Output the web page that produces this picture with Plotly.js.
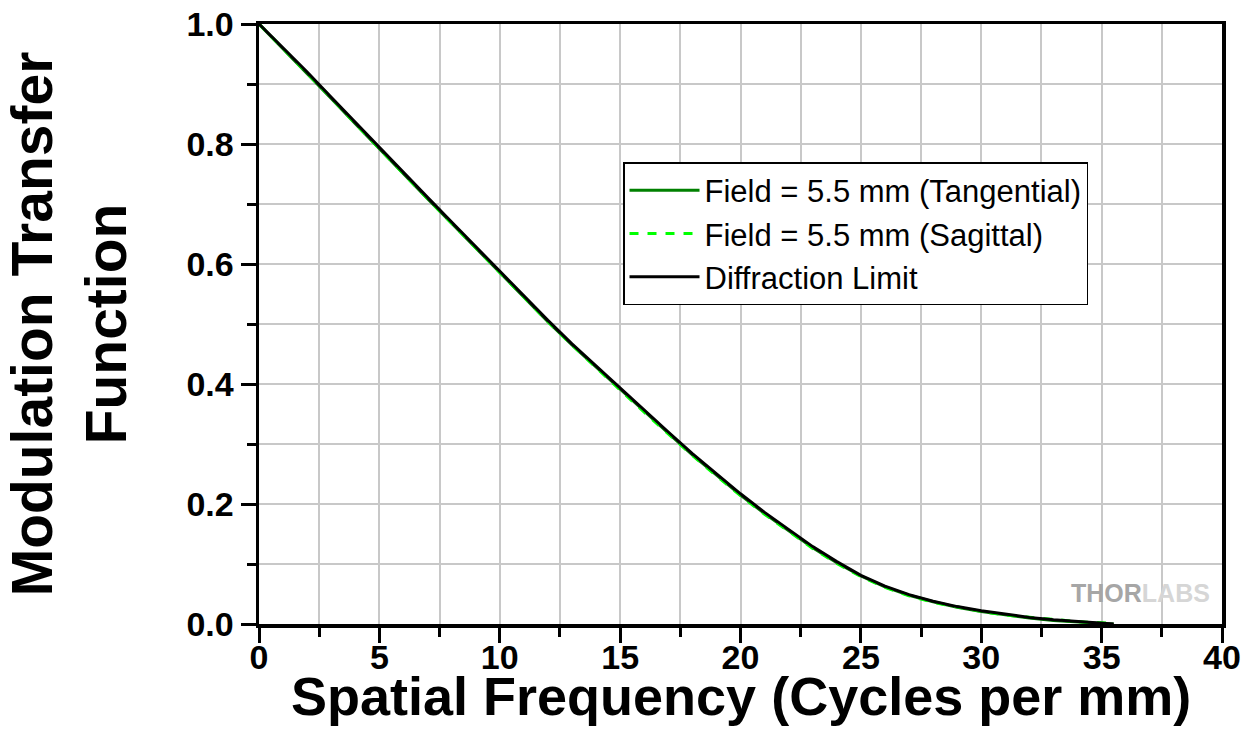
<!DOCTYPE html>
<html>
<head>
<meta charset="utf-8">
<script src="https://cdn.plot.ly/plotly-3.0.1.min.js"></script>
<style>html,body{margin:0;padding:0;background:#fff;}#chart{width:1254px;height:749px;}</style>
</head>
<body>
<div id="chart"></div>
<script>
// Spatial frequency (cycles per mm)
const freq = [0,1,2,3,4,5,6,7,8,9,10,11,12,13,14,15,16,17,18,19,20,21,22,23,24,25,26,27,28,29,30,31,32,33,34,35,35.5];
// MTF values
const tangential = [1.000,0.959,0.918,0.876,0.834,0.792,0.750,0.709,0.668,0.627,0.585,0.544,0.504,0.465,0.428,0.391,0.354,0.318,0.282,0.248,0.215,0.184,0.155,0.127,0.102,0.080,0.062,0.048,0.037,0.028,0.021,0.015,0.010,0.006,0.003,0.001,0.000];
const sagittal = [1.000,0.959,0.918,0.877,0.834,0.792,0.751,0.709,0.668,0.627,0.585,0.544,0.504,0.465,0.427,0.390,0.353,0.317,0.281,0.247,0.214,0.183,0.154,0.126,0.101,0.079,0.061,0.047,0.036,0.028,0.021,0.015,0.011,0.007,0.004,0.002,0.001];
const diffraction = [1.000,0.960,0.920,0.878,0.836,0.794,0.752,0.711,0.670,0.629,0.587,0.546,0.506,0.467,0.430,0.393,0.356,0.320,0.284,0.250,0.217,0.186,0.157,0.129,0.104,0.081,0.063,0.049,0.038,0.029,0.022,0.016,0.011,0.007,0.004,0.001,0.000];
const seriesNames = ["Field = 5.5 mm (Tangential)", "Field = 5.5 mm (Sagittal)", "Diffraction Limit"];
const xTitle = "Spatial Frequency (Cycles per mm)";
const yTitle = "Modulation Transfer<br>Function";

const FONT = "'Liberation Sans', Arial, sans-serif";

const traces = [
  {x: freq, y: tangential, name: seriesNames[0], type: "scatter", mode: "lines",
   line: {color: "#008000", width: 3}, legendgroup: "a"},
  {x: freq, y: sagittal, name: seriesNames[1], type: "scatter", mode: "lines",
   line: {color: "#00ff00", width: 3, dash: "dash"}, legendgroup: "b"},
  {x: freq, y: diffraction, name: seriesNames[2], type: "scatter", mode: "lines",
   line: {color: "#000000", width: 3}, legendgroup: "c"}
];

const layout = {
  width: 1254, height: 749,
  margin: {l: 259, r: 32, t: 24, b: 125},
  paper_bgcolor: "#ffffff", plot_bgcolor: "#ffffff",
  font: {family: FONT, color: "#000"},
  showlegend: true,
  legend: {
    x: 0.378, y: 0.77, xanchor: "left", yanchor: "top",
    bgcolor: "#ffffff", bordercolor: "#000000", borderwidth: 1.5,
    font: {family: FONT, size: 31, color: "#000"},
    tracegroupgap: 0, traceorder: "normal", itemwidth: 70
  },
  xaxis: {
    range: [0, 40], dtick: 5, tick0: 0,
    showline: true, linewidth: 3.5, linecolor: "#000", mirror: true,
    ticks: "outside", ticklen: 15, tickwidth: 3, tickcolor: "#000",
    showgrid: true, gridcolor: "#c8c8c8", gridwidth: 2,
    zeroline: false, ticklabelstandoff: -14,
    tickfont: {family: FONT, size: 34, color: "#000", weight: "bold"},
    minor: {dtick: 2.5, ticklen: 9, tickwidth: 3, tickcolor: "#000", ticks: "outside",
            showgrid: true, gridcolor: "#c8c8c8", gridwidth: 2}
  },
  yaxis: {
    range: [0, 1], dtick: 0.2, tick0: 0, tickformat: ".1f",
    showline: true, linewidth: 3.5, linecolor: "#000", mirror: true,
    ticks: "outside", ticklen: 15, tickwidth: 3, tickcolor: "#000",
    showgrid: true, gridcolor: "#c8c8c8", gridwidth: 2,
    zeroline: false,
    tickfont: {family: FONT, size: 34, color: "#000", weight: "bold"},
    minor: {dtick: 0.1, ticklen: 9, tickwidth: 3, tickcolor: "#000", ticks: "outside",
            showgrid: true, gridcolor: "#c8c8c8", gridwidth: 2},
    title: {text: "<b>" + yTitle + "</b>", font: {family: FONT, size: 57, color: "#000"}, standoff: 58}
  },
  annotations: [
    {xref: "paper", yref: "paper", x: 0.5, y: -0.12, xanchor: "center", yanchor: "middle",
     text: "<b>" + xTitle + "</b>", showarrow: false,
     font: {family: FONT, size: 54, color: "#000"}},
    {xref: "paper", yref: "paper", x: 0.915, y: 0.052, xanchor: "center", yanchor: "middle",
     text: "<b>THOR</b><span style='color:#d6d6d6'><b>LABS</b></span>",
     showarrow: false, font: {family: FONT, size: 25, color: "#a6a6a6"}}
  ]
};

Plotly.newPlot("chart", traces, layout, {displayModeBar: false, staticPlot: true});
</script>
</body>
</html>
